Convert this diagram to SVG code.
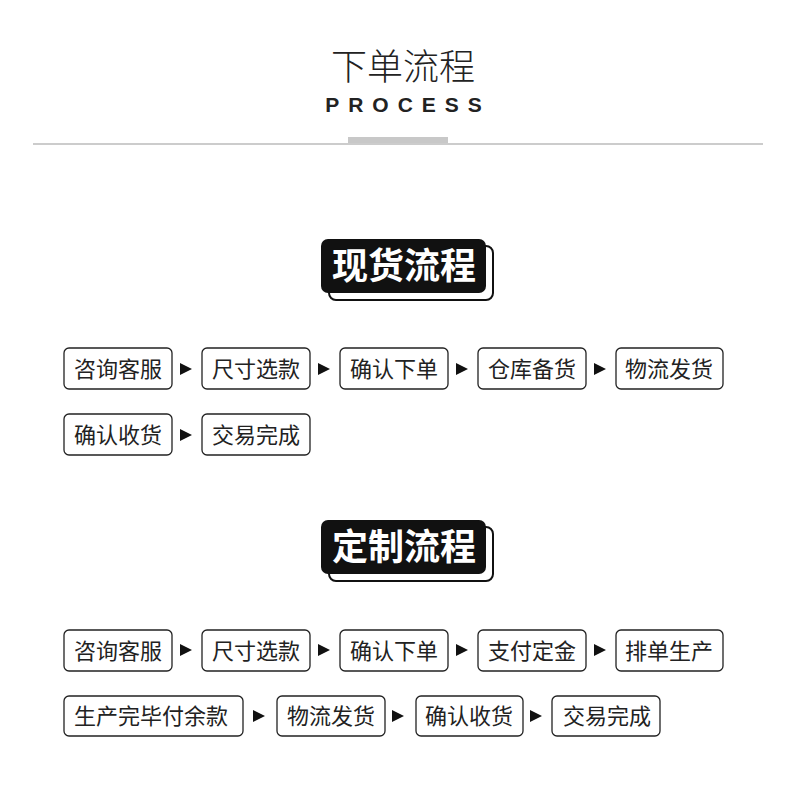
<svg xmlns="http://www.w3.org/2000/svg" width="800" height="792" viewBox="0 0 800 792">
<style>
.cjk{font-family:"Noto Sans CJK SC","Noto Sans",sans-serif}
.box{fill:#fff;stroke:#222;stroke-width:1.3}
.lbl{font-size:22px;fill:#222;text-anchor:middle}
.arr{fill:#111}
.badge{fill:#111}
.shadow{fill:#fff;stroke:#111;stroke-width:2}
.bt{font-size:36px;font-weight:bold;fill:#fff;text-anchor:middle}
</style>
<rect width="800" height="792" fill="#fff"/>
<g id="header">
<text x="403" y="80" class="cjk" font-size="36" font-weight="300" fill="#222" text-anchor="middle">下单流程</text>
<text x="408" y="112" font-family="Liberation Sans,Arial,sans-serif" font-size="21" font-weight="bold" fill="#222" text-anchor="middle" letter-spacing="9">PROCESS</text>
<rect x="33" y="143" width="730" height="2" fill="#ccc"/>
<rect x="348" y="137" width="100" height="6" fill="#c8c8c8"/>
</g>
<g id="badge1">
<rect class="shadow" x="329" y="246" width="164" height="54" rx="7"/>
<rect class="badge" x="321" y="239" width="165" height="54" rx="7"/>
<text x="404" y="279" class="cjk bt">现货流程</text>
</g>
<g id="badge2">
<rect class="shadow" x="329" y="527" width="164" height="54" rx="7"/>
<rect class="badge" x="321" y="520" width="165" height="54" rx="7"/>
<text x="404" y="560" class="cjk bt">定制流程</text>
</g>
<g id="connectors">
<polygon class="arr" points="180,363 192,369 180,375"/>
<polygon class="arr" points="318,363 330,369 318,375"/>
<polygon class="arr" points="456,363 468,369 456,375"/>
<polygon class="arr" points="594,363 606,369 594,375"/>
<polygon class="arr" points="180,429 192,435 180,441"/>
<polygon class="arr" points="180,644 192,650 180,656"/>
<polygon class="arr" points="318,644 330,650 318,656"/>
<polygon class="arr" points="456,644 468,650 456,656"/>
<polygon class="arr" points="594,644 606,650 594,656"/>
<polygon class="arr" points="253,710 265,716 253,722"/>
<polygon class="arr" points="392,710 404,716 392,722"/>
<polygon class="arr" points="530,710 542,716 530,722"/>
</g>
<g id="s1n1"><rect class="box" x="64" y="348" width="108" height="41" rx="5"/><text x="118" y="377" class="cjk lbl">咨询客服</text></g>
<g id="s1n2"><rect class="box" x="202" y="348" width="108" height="41" rx="5"/><text x="256" y="377" class="cjk lbl">尺寸选款</text></g>
<g id="s1n3"><rect class="box" x="340" y="348" width="108" height="41" rx="5"/><text x="394" y="377" class="cjk lbl">确认下单</text></g>
<g id="s1n4"><rect class="box" x="478" y="348" width="108" height="41" rx="5"/><text x="532" y="377" class="cjk lbl">仓库备货</text></g>
<g id="s1n5"><rect class="box" x="616" y="348" width="107" height="41" rx="5"/><text x="669" y="377" class="cjk lbl">物流发货</text></g>
<g id="s1n6"><rect class="box" x="64" y="414" width="108" height="41" rx="5"/><text x="118" y="443" class="cjk lbl">确认收货</text></g>
<g id="s1n7"><rect class="box" x="202" y="414" width="108" height="41" rx="5"/><text x="256" y="443" class="cjk lbl">交易完成</text></g>
<g id="s2n1"><rect class="box" x="64" y="630" width="108" height="41" rx="5"/><text x="118" y="659" class="cjk lbl">咨询客服</text></g>
<g id="s2n2"><rect class="box" x="202" y="630" width="108" height="41" rx="5"/><text x="256" y="659" class="cjk lbl">尺寸选款</text></g>
<g id="s2n3"><rect class="box" x="340" y="630" width="108" height="41" rx="5"/><text x="394" y="659" class="cjk lbl">确认下单</text></g>
<g id="s2n4"><rect class="box" x="478" y="630" width="108" height="41" rx="5"/><text x="532" y="659" class="cjk lbl">支付定金</text></g>
<g id="s2n5"><rect class="box" x="616" y="630" width="107" height="41" rx="5"/><text x="669" y="659" class="cjk lbl">排单生产</text></g>
<g id="s2n6"><rect class="box" x="64" y="696" width="179" height="40" rx="5"/><text x="151" y="724" class="cjk lbl">生产完毕付余款</text></g>
<g id="s2n7"><rect class="box" x="277" y="696" width="108" height="40" rx="5"/><text x="331" y="724" class="cjk lbl">物流发货</text></g>
<g id="s2n8"><rect class="box" x="416" y="696" width="107" height="40" rx="5"/><text x="469" y="724" class="cjk lbl">确认收货</text></g>
<g id="s2n9"><rect class="box" x="552" y="696" width="108" height="40" rx="5"/><text x="607" y="724" class="cjk lbl">交易完成</text></g>
</svg>
